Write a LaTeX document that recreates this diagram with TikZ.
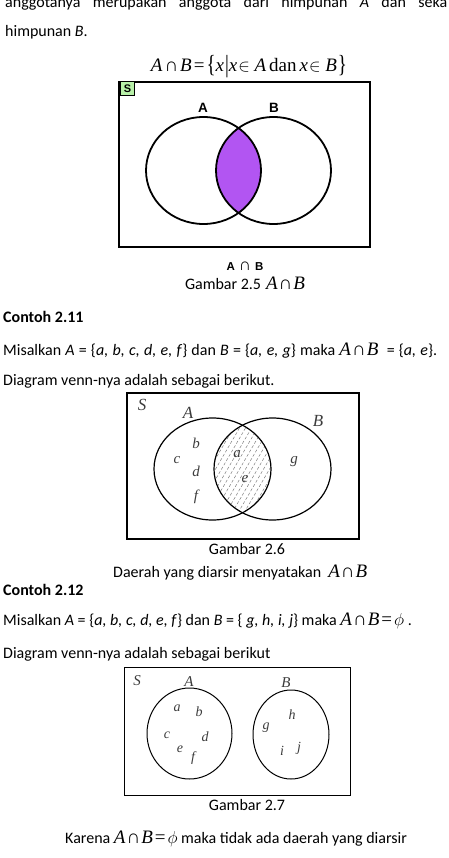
\documentclass[tikz,border=0pt]{standalone}
\usepackage{fontspec}
\usepackage{graphicx}
\setmainfont{Carlito}
\newfontfamily\tms{Liberation Serif}
\newfontfamily\ars{Liberation Sans}
\newcommand\mth[1]{{\fontsize{19}{19}\selectfont\tms #1}}
\newcommand\AcapB{\mth{\itshape A\kern1pt{\upshape ∩}\kern1pt B}}
\newcommand\elt{{\upshape\fontsize{16}{16}\selectfont$\in$}}
\definecolor{lilac}{RGB}{178,85,242}
\definecolor{sgreen}{RGB}{184,240,168}
\definecolor{lbl}{RGB}{60,60,60}
\begin{document}
\begin{tikzpicture}[x=1pt,y=-1pt,
  body/.style={anchor=base west,inner sep=0pt,font=\fontsize{16}{19}\selectfont},
  captxt/.style={anchor=base,inner sep=0pt,font=\fontsize{16}{19}\selectfont},
  thickline/.style={line width=1.8pt},
  medline/.style={line width=1.2pt},
  setlbl/.style={inner sep=0pt,text=lbl,font=\fontsize{17}{17}\selectfont\tms\itshape},
  elem/.style={inner sep=0pt,text=lbl,font=\fontsize{15}{15}\selectfont\tms\itshape},
  elemsm/.style={inner sep=0pt,text=lbl,font=\fontsize{14}{14}\selectfont\tms\itshape},
  hatch/.style={gray,line width=0.5pt,dash pattern=on 3pt off 2pt},
  sanslbl/.style={inner sep=0pt,font=\fontsize{13.5}{14}\selectfont\ars\bfseries}]
\clip (0,0) rectangle (448,858);
\useasboundingbox (0,0) rectangle (448,858);

% ---- top text ----
\node[body] (l1) at (5,7.5) {\makebox[442pt][s]{anggotanya merupakan anggota dari himpunan \textit{A} dan seka}};
\node[body] (l2) at (5,37) {himpunan \textit{B}.};
\node[anchor=base,inner sep=0pt] (frm) at (249,72)
  {\mth{\itshape A\kern2pt{\upshape ∩}\kern2pt B\kern2pt{\upshape =}\kern2pt\raisebox{-1pt}{\scalebox{1}[1.3]{\upshape\{}}x\kern1pt\raisebox{-1pt}{\scalebox{1}[1.3]{\upshape|}}x\kern1pt\elt\ A\kern3pt{\upshape dan}\kern3pt x\kern1pt\elt\ B\kern1pt\raisebox{-1pt}{\scalebox{1}[1.3]{\upshape\}}}}};

% ---- diagram 1 ----
\draw[thickline] (119,82) rectangle (370,247);
\node[draw,fill=sgreen,line width=0.8pt,inner sep=1pt,minimum size=14pt,font=\fontsize{11}{11}\selectfont\ars\bfseries] (S1) at (127.5,88.5) {S};
\begin{scope}
  \clip (203.5,170.5) ellipse [x radius=57.5,y radius=53.5];
  \fill[lilac] (273.5,170.5) ellipse [x radius=57.5,y radius=53.5];
\end{scope}
\draw[thickline] (203.5,170.5) ellipse [x radius=57.5,y radius=53.5];
\draw[thickline] (273.5,170.5) ellipse [x radius=57.5,y radius=53.5];
\node[sanslbl] (A1) at (203,108) {A};
\node[sanslbl] (B1) at (274,108) {B};
\node[inner sep=0pt,font=\fontsize{11.5}{12}\selectfont\ars\bfseries] (AB1) at (245,266) {A\kern4pt{\fontsize{17}{17}\selectfont ∩}\kern4pt B};
\node[captxt] (g25) at (245,290) {Gambar 2.5\kern5pt\AcapB};

% ---- Contoh 2.11 ----
\node[body,font=\fontsize{16}{19}\selectfont\bfseries] (c211) at (3,322) {Contoh 2.11};
\node[body] (m211) at (3,355) {\makebox[434pt][s]{Misalkan \textit{A} = \{\textit{a, b, c, d, e, f}\} dan \textit{B} = \{\textit{a, e, g}\} maka \AcapB\ \ = \{\textit{a, e}\}.}};
\node[body] (d211) at (3,385) {Diagram venn-nya adalah sebagai berikut.};

% ---- diagram 2 ----
\draw[medline] (127,393) rectangle (359,539);
\begin{scope}
  \clip (212.5,469) ellipse [x radius=58.5,y radius=51];
  \clip (272.5,469) ellipse [x radius=58.5,y radius=51];
  \foreach \i in {120,126,...,290} \draw[hatch] (\i,530) -- ++(70,-120);
\end{scope}
\draw[medline] (212.5,469) ellipse [x radius=58.5,y radius=51];
\draw[medline] (272.5,469) ellipse [x radius=58.5,y radius=51];
\node[setlbl] (S2) at (142,405) {S};
\node[setlbl] (A2) at (188,413) {A};
\node[setlbl] (B2) at (318,421) {B};
\node[elem] (b2) at (196,443) {b};
\node[elem] (c2) at (177,460) {c};
\node[elem] (d2) at (196,471) {d};
\node[elem] (f2) at (196,497) {f};
\node[elem] (a2) at (237,454) {a};
\node[elem] (e2) at (245,479) {e};
\node[elem] (gg2) at (294,462) {g};
\node[captxt] (g26) at (247,554) {Gambar 2.6};
\node[body] (dae) at (113,577) {Daerah yang diarsir menyatakan\kern7pt\AcapB};

% ---- Contoh 2.12 ----
\node[body,font=\fontsize{16}{19}\selectfont\bfseries] (c212) at (3,595) {Contoh 2.12};
\node[body] (m212) at (3,625) {Misalkan \textit{A} = \{\textit{a, b, c, d, e, f}\} dan \textit{B} = \{ \textit{g, h, i, j}\} maka \mth{\itshape A\kern1pt{\upshape ∩}\kern1pt B\kern2pt{\upshape =}\kern2pt$\phi$}\ .};
\node[body] (d212) at (3,658) {Diagram venn-nya adalah sebagai berikut};

% ---- diagram 3 ----
\draw[line width=1pt] (124,667) rectangle (350,795);
\draw[line width=1pt] (189.5,733.5) ellipse [x radius=42.5,y radius=45.5];
\draw[line width=1pt] (291,734.5) ellipse [x radius=38,y radius=44.5];
\node[elem] (S3) at (137,681) {S};
\node[elem] (A3) at (189,682) {A};
\node[elem] (B3) at (286,683) {B};
\node[elemsm] (a3) at (177,708) {a};
\node[elemsm] (b3) at (199,712) {b};
\node[elemsm] (c3) at (167,735) {c};
\node[elemsm] (d3) at (205,737) {d};
\node[elemsm] (e3) at (180,749) {e};
\node[elemsm] (f3) at (193,758) {f};
\node[elemsm] (g3) at (266,728) {g};
\node[elemsm] (h3) at (292,715) {h};
\node[elemsm] (i3) at (282,751) {i};
\node[elemsm] (j3) at (299,748) {j};
\node[captxt] (g27) at (247,810) {Gambar 2.7};
\node[body] (kar) at (65,843) {Karena \mth{\itshape A\kern1pt{\upshape ∩}\kern1pt B\kern2pt{\upshape =}\kern2pt$\phi$}\ maka tidak ada daerah yang diarsir};
\end{tikzpicture}
\end{document}
